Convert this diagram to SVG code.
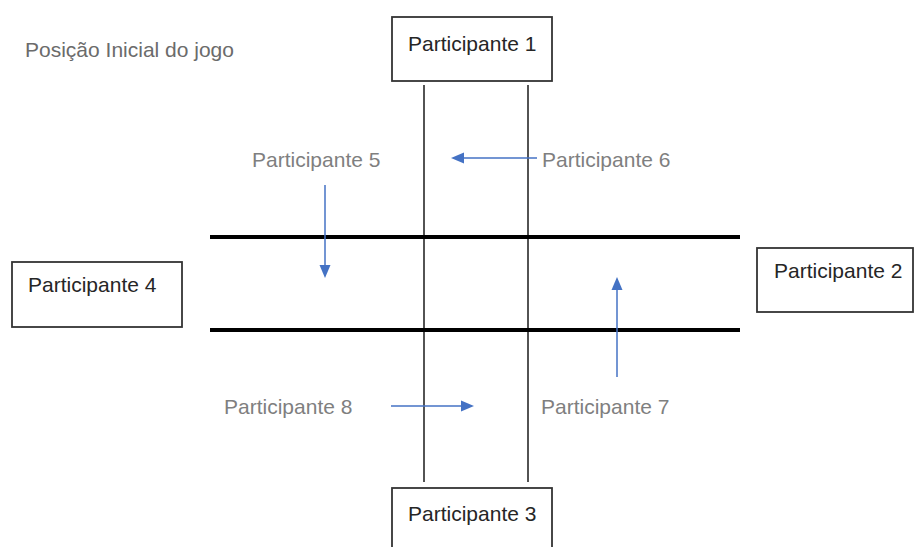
<svg xmlns="http://www.w3.org/2000/svg" width="915" height="547" viewBox="0 0 915 547">
<style>
.box{fill:#fff;stroke:#333;stroke-width:1.8}
.lbl{font-family:"Liberation Sans",Arial,sans-serif;font-size:21px;fill:#262626}
.glbl{font-family:"Liberation Sans",Arial,sans-serif;font-size:21px;fill:#7f7f7f}
.title{font-family:"Liberation Sans",Arial,sans-serif;font-size:21px;fill:#6b6b6b}
.thin{stroke:#1a1a1a;stroke-width:1.5;fill:none}
.thick{stroke:#000;stroke-width:4;fill:none}
.arr{stroke:#4472c4;stroke-width:1.5;fill:none}
.head{fill:#4472c4}
</style>
<rect width="915" height="547" fill="#fff"/>
<text class="title" x="25" y="57">Posição Inicial do jogo</text>
<g id="connectors">
<line class="thin" x1="424" y1="85" x2="424" y2="482"/>
<line class="thin" x1="528" y1="85" x2="528" y2="482"/>
<line class="thick" x1="210" y1="237" x2="740" y2="237"/>
<line class="thick" x1="210" y1="330" x2="740" y2="330"/>
<line class="arr" x1="537" y1="158" x2="462" y2="158"/>
<path class="head" d="M451,158 L464,152.5 L464,163.5 z"/>
<line class="arr" x1="325" y1="185" x2="325" y2="266"/>
<path class="head" d="M325,278 L319.5,265 L330.5,265 z"/>
<line class="arr" x1="617" y1="377" x2="617" y2="290"/>
<path class="head" d="M617,277 L611.5,290 L622.5,290 z"/>
<line class="arr" x1="391" y1="406" x2="462" y2="406"/>
<path class="head" d="M474,406 L461,400.5 L461,411.5 z"/>
</g>
<g id="p1"><rect class="box" x="392" y="17" width="160" height="64"/><text class="lbl" x="408" y="51">Participante 1</text></g>
<g id="p2"><rect class="box" x="757" y="248" width="156" height="64"/><text class="lbl" x="774" y="278">Participante 2</text></g>
<g id="p3"><rect class="box" x="392" y="488" width="160" height="70"/><text class="lbl" x="408" y="521">Participante 3</text></g>
<g id="p4"><rect class="box" x="12" y="262" width="170" height="65"/><text class="lbl" x="28" y="292">Participante 4</text></g>
<g id="p5"><text class="glbl" x="252" y="167">Participante 5</text></g>
<g id="p6"><text class="glbl" x="542" y="167">Participante 6</text></g>
<g id="p7"><text class="glbl" x="541" y="414">Participante 7</text></g>
<g id="p8"><text class="glbl" x="224" y="414">Participante 8</text></g>
</svg>
